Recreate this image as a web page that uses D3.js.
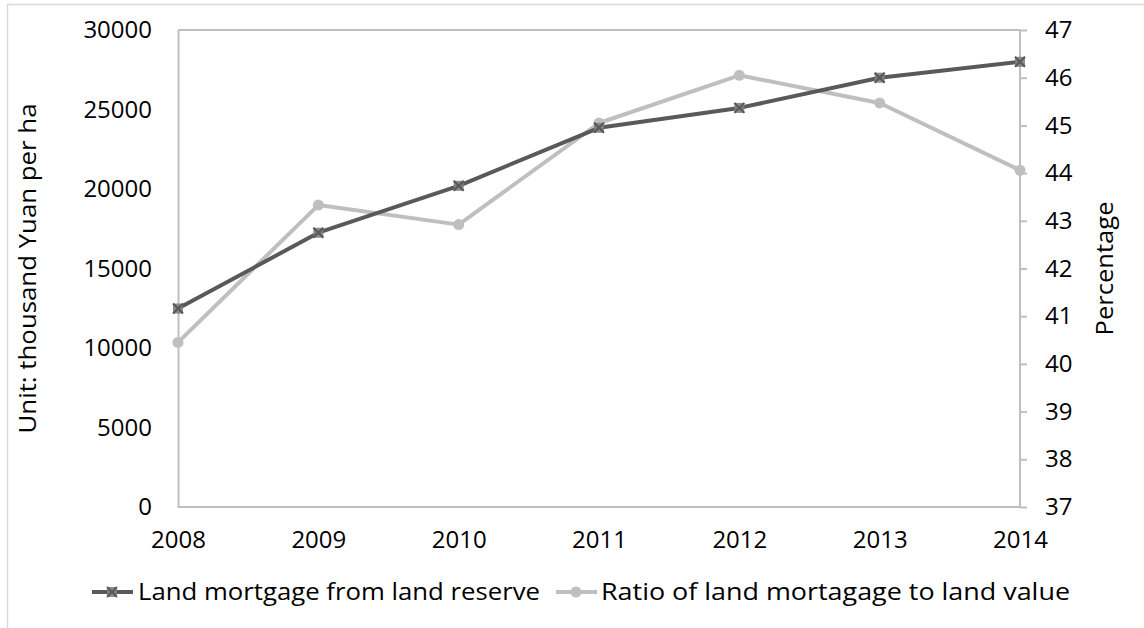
<!DOCTYPE html>
<html><head><meta charset="utf-8">
<script src="https://cdn.jsdelivr.net/npm/d3@7"></script>
<style>body{margin:0;background:#fff}svg{display:block;font-family:"Open Sans","Noto Sans",sans-serif}</style>
</head><body><svg id="c" width="1144" height="628"></svg>
<script>
const years = ["2008","2009","2010","2011","2012","2013","2014"];
const mortgage = [12480, 17250, 20200, 23850, 25100, 27000, 28000];
const ratio = [40.45, 43.33, 42.92, 45.05, 46.05, 45.47, 44.06];
const leftTicks = [0,5000,10000,15000,20000,25000,30000];
const rightTicks = [37,38,39,40,41,42,43,44,45,46,47];
const seriesNames = ["Land mortgage from land reserve","Ratio of land mortagage to land value"];

const svg = d3.select("#c");
const L=178, R=1020, T=30, B=507;
const dark="#595959", light="#bfbfbf", axisC="#bfbfbf";
const FF="'Open Sans','Noto Sans',sans-serif";

svg.append("rect").attr("x",7.5).attr("y",4.5).attr("width",1200).attr("height",700)
  .attr("fill","none").attr("stroke","#d9d9d9").attr("stroke-width",1.5);

const x = d3.scalePoint().domain(years).range([L,R]);
const yL = d3.scaleLinear().domain([0,30000]).range([B,T]);
const yR = d3.scaleLinear().domain([37,47]).range([B,T]);

svg.append("line").attr("x1",L).attr("x2",R).attr("y1",T).attr("y2",T).attr("stroke",axisC).attr("stroke-width",2);

const gl = svg.append("g").attr("transform",`translate(${L},0)`)
  .call(d3.axisLeft(yL).tickValues(leftTicks).tickSize(0).tickPadding(26).tickFormat(d3.format("d")));
gl.select(".domain").attr("stroke",axisC).attr("stroke-width",2);
gl.selectAll("text").attr("font-size",24).attr("fill","#000").attr("font-family",FF);

const gr = svg.append("g").attr("transform",`translate(${R},0)`)
  .call(d3.axisRight(yR).tickValues(rightTicks).tickSize(7).tickPadding(18).tickFormat(d3.format("d")));
gr.select(".domain").attr("stroke",axisC).attr("stroke-width",2).attr("d",`M0,${T}V${B}`);
gr.selectAll("line").attr("stroke",axisC).attr("stroke-width",2);
gr.selectAll("text").attr("font-size",24).attr("fill","#000").attr("font-family",FF);

const gb = svg.append("g").attr("transform",`translate(0,${B})`)
  .call(d3.axisBottom(x).tickSize(0).tickPadding(24));
gb.select(".domain").attr("stroke",axisC).attr("stroke-width",2).attr("d",`M${L},0H${R}`);
gb.selectAll("text").attr("font-size",24).attr("fill","#000").attr("font-family",FF);

svg.append("text").attr("transform",`translate(36,${(T+B)/2}) rotate(-90)`).attr("text-anchor","middle")
  .attr("font-size",23).attr("textLength",330).attr("lengthAdjust","spacingAndGlyphs").text("Unit: thousand Yuan per ha");
svg.append("text").attr("transform",`translate(1113,${(T+B)/2}) rotate(-90)`).attr("text-anchor","middle")
  .attr("font-size",23).attr("textLength",134).attr("lengthAdjust","spacingAndGlyphs").text("Percentage");

const lineL = d3.line().x((d,i)=>x(years[i])).y(d=>yL(d));
const lineR = d3.line().x((d,i)=>x(years[i])).y(d=>yR(d));
svg.append("path").attr("d",lineR(ratio)).attr("fill","none").attr("stroke",light).attr("stroke-width",4).attr("stroke-linejoin","round");
svg.append("path").attr("d",lineL(mortgage)).attr("fill","none").attr("stroke",dark).attr("stroke-width",4).attr("stroke-linejoin","round");

function xMarker(g,cx,cy){
  g.append("rect").attr("x",cx-5).attr("y",cy-5).attr("width",10).attr("height",10).attr("fill","#7f7f7f").attr("opacity",0.9);
  g.append("path").attr("d",`M${cx-5},${cy-5}L${cx+5},${cy+5}M${cx-5},${cy+5}L${cx+5},${cy-5}`).attr("stroke",dark).attr("stroke-width",2);
}
function oMarker(g,cx,cy){
  g.append("circle").attr("cx",cx).attr("cy",cy).attr("r",5.5).attr("fill",light);
}
ratio.forEach((d,i)=>oMarker(svg,x(years[i]),yR(d)));
mortgage.forEach((d,i)=>xMarker(svg,x(years[i]),yL(d)));

const ly=592;
const lg=svg.append("g");
lg.append("line").attr("x1",92).attr("x2",133).attr("y1",ly).attr("y2",ly).attr("stroke",dark).attr("stroke-width",4);
xMarker(lg,112,ly);
lg.append("text").attr("x",138).attr("y",ly+8).attr("font-size",24).attr("textLength",402).attr("lengthAdjust","spacingAndGlyphs").text(seriesNames[0]);
lg.append("line").attr("x1",556).attr("x2",597).attr("y1",ly).attr("y2",ly).attr("stroke",light).attr("stroke-width",4);
oMarker(lg,576,ly);
lg.append("text").attr("x",601).attr("y",ly+8).attr("font-size",24).attr("textLength",469).attr("lengthAdjust","spacingAndGlyphs").text(seriesNames[1]);
</script></body></html>
